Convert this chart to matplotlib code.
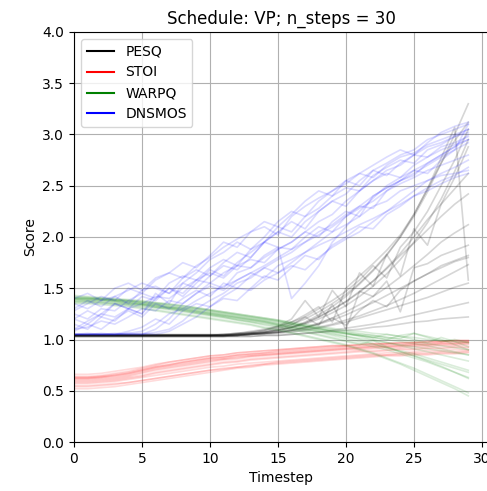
import numpy as np
import matplotlib
matplotlib.use("Agg")
import matplotlib.pyplot as plt
from matplotlib.lines import Line2D

timesteps = list(range(30))

pesq = [
    [1.04,1.04,1.04,1.04,1.04,1.04,1.04,1.04,1.04,1.04,1.04,1.04,1.05,1.06,1.08,1.11,1.15,1.20,1.27,1.35,1.44,1.55,1.68,1.83,2.00,2.20,2.44,2.72,3.00,3.30],
    [1.03,1.03,1.03,1.03,1.03,1.03,1.03,1.03,1.03,1.03,1.03,1.03,1.04,1.05,1.06,1.08,1.11,1.15,1.20,1.26,1.33,1.42,1.52,1.64,1.78,1.95,2.14,2.37,2.64,2.95],
    [1.04,1.04,1.04,1.04,1.04,1.04,1.04,1.04,1.04,1.04,1.04,1.04,1.04,1.05,1.06,1.07,1.09,1.12,1.16,1.21,1.27,1.34,1.42,1.51,1.61,1.72,1.83,1.95,2.04,2.12],
    [1.03,1.03,1.03,1.03,1.03,1.03,1.03,1.03,1.03,1.03,1.03,1.03,1.03,1.03,1.04,1.04,1.05,1.06,1.07,1.09,1.11,1.13,1.15,1.18,1.21,1.24,1.27,1.30,1.33,1.36],
    [1.04,1.04,1.04,1.04,1.04,1.04,1.04,1.04,1.04,1.04,1.04,1.05,1.06,1.07,1.09,1.13,1.20,1.38,1.22,1.48,1.32,1.65,1.52,1.83,1.62,2.08,1.92,2.32,2.58,2.88],
    [1.04,1.04,1.04,1.04,1.04,1.04,1.04,1.04,1.04,1.04,1.04,1.04,1.04,1.05,1.06,1.07,1.08,1.10,1.12,1.15,1.19,1.23,1.28,1.33,1.39,1.45,1.52,1.59,1.66,1.73],
    [1.05,1.05,1.05,1.05,1.05,1.05,1.05,1.05,1.05,1.05,1.05,1.05,1.06,1.07,1.09,1.12,1.17,1.24,1.32,1.17,1.50,1.62,1.74,1.87,2.02,2.22,2.47,2.72,2.94,3.12],
    [1.04,1.04,1.04,1.04,1.04,1.04,1.04,1.04,1.04,1.04,1.04,1.04,1.05,1.06,1.07,1.09,1.12,1.17,1.24,1.32,1.42,1.54,1.67,1.82,2.00,2.22,2.47,2.77,3.07,1.58],
    [1.03,1.03,1.03,1.03,1.03,1.03,1.03,1.03,1.03,1.03,1.03,1.03,1.04,1.05,1.06,1.07,1.09,1.11,1.15,1.21,1.14,1.28,1.38,1.32,1.48,1.57,1.64,1.72,1.77,1.82],
    [1.04,1.04,1.04,1.04,1.04,1.04,1.04,1.04,1.04,1.04,1.04,1.04,1.05,1.06,1.07,1.09,1.12,1.16,1.22,1.29,1.37,1.46,1.57,1.70,1.84,2.00,2.17,2.32,2.47,2.62],
    [1.03,1.03,1.03,1.03,1.03,1.03,1.03,1.03,1.03,1.03,1.03,1.03,1.03,1.03,1.04,1.04,1.05,1.06,1.07,1.08,1.09,1.10,1.12,1.13,1.15,1.17,1.18,1.20,1.21,1.22],
    [1.04,1.04,1.04,1.04,1.04,1.04,1.04,1.04,1.04,1.04,1.04,1.04,1.05,1.06,1.07,1.10,1.14,1.22,1.14,1.34,1.10,1.47,1.42,1.57,1.27,1.70,1.74,1.82,1.87,1.92],
    [1.04,1.04,1.04,1.04,1.04,1.04,1.04,1.04,1.04,1.04,1.04,1.04,1.05,1.06,1.07,1.09,1.12,1.16,1.22,1.29,1.37,1.47,1.57,1.69,1.82,1.94,2.07,2.20,2.32,2.42],
    [1.04,1.04,1.04,1.04,1.04,1.04,1.04,1.04,1.04,1.04,1.04,1.04,1.04,1.05,1.05,1.06,1.07,1.09,1.11,1.14,1.17,1.21,1.25,1.29,1.33,1.37,1.41,1.46,1.51,1.55],
    [1.04,1.04,1.04,1.04,1.04,1.04,1.04,1.04,1.04,1.04,1.04,1.05,1.06,1.08,1.10,1.13,1.17,1.22,1.30,1.38,1.47,1.58,1.72,1.60,1.90,2.05,2.25,2.50,2.75,3.05],
    [1.04,1.04,1.04,1.04,1.04,1.04,1.04,1.04,1.04,1.04,1.04,1.04,1.04,1.05,1.06,1.07,1.09,1.12,1.15,1.19,1.24,1.30,1.36,1.43,1.50,1.57,1.64,1.70,1.76,1.80],
]

stoi = [
    [0.62,0.62,0.63,0.64,0.66,0.69,0.72,0.74,0.76,0.78,0.80,0.81,0.83,0.84,0.85,0.86,0.87,0.88,0.89,0.90,0.91,0.92,0.93,0.93,0.94,0.95,0.95,0.96,0.96,0.97],
    [0.57,0.57,0.58,0.59,0.61,0.63,0.65,0.67,0.69,0.71,0.73,0.74,0.76,0.77,0.78,0.79,0.80,0.81,0.82,0.83,0.84,0.85,0.86,0.87,0.87,0.88,0.89,0.89,0.90,0.90],
    [0.66,0.66,0.67,0.69,0.71,0.73,0.76,0.78,0.80,0.82,0.84,0.85,0.87,0.88,0.89,0.90,0.91,0.92,0.93,0.94,0.94,0.95,0.96,0.96,0.97,0.97,0.98,0.98,0.99,0.99],
    [0.52,0.52,0.53,0.54,0.56,0.58,0.60,0.62,0.64,0.66,0.68,0.70,0.72,0.73,0.75,0.76,0.77,0.78,0.79,0.80,0.81,0.82,0.83,0.84,0.84,0.85,0.85,0.86,0.86,0.87],
    [0.60,0.60,0.61,0.62,0.64,0.67,0.70,0.72,0.74,0.76,0.78,0.80,0.81,0.83,0.84,0.85,0.86,0.87,0.88,0.89,0.90,0.90,0.91,0.92,0.92,0.93,0.93,0.94,0.94,0.95],
    [0.63,0.63,0.64,0.66,0.68,0.71,0.74,0.76,0.78,0.80,0.82,0.83,0.85,0.86,0.87,0.88,0.89,0.90,0.91,0.92,0.93,0.93,0.94,0.95,0.95,0.96,0.96,0.97,0.97,0.98],
    [0.55,0.55,0.56,0.57,0.58,0.60,0.62,0.64,0.66,0.68,0.70,0.71,0.73,0.74,0.76,0.77,0.78,0.79,0.80,0.81,0.82,0.83,0.84,0.85,0.85,0.86,0.86,0.87,0.87,0.88],
    [0.61,0.61,0.62,0.63,0.65,0.68,0.71,0.73,0.75,0.77,0.79,0.81,0.82,0.84,0.85,0.86,0.87,0.88,0.89,0.90,0.91,0.91,0.92,0.93,0.93,0.94,0.94,0.95,0.95,0.96],
    [0.59,0.59,0.60,0.61,0.63,0.65,0.68,0.70,0.72,0.74,0.76,0.78,0.79,0.81,0.82,0.83,0.84,0.85,0.86,0.87,0.88,0.89,0.89,0.90,0.91,0.91,0.92,0.92,0.93,0.93],
    [0.64,0.64,0.65,0.67,0.69,0.72,0.75,0.78,0.80,0.82,0.84,0.85,0.87,0.88,0.89,0.90,0.91,0.92,0.93,0.94,0.94,0.95,0.96,0.96,0.97,0.97,0.98,0.98,0.99,0.99],
    [0.54,0.54,0.55,0.56,0.58,0.60,0.62,0.64,0.66,0.68,0.70,0.72,0.73,0.75,0.76,0.78,0.79,0.80,0.81,0.82,0.83,0.84,0.85,0.85,0.86,0.87,0.87,0.88,0.88,0.89],
    [0.62,0.62,0.63,0.65,0.67,0.70,0.73,0.75,0.77,0.79,0.81,0.82,0.84,0.85,0.86,0.87,0.88,0.89,0.90,0.91,0.92,0.92,0.93,0.94,0.94,0.95,0.95,0.96,0.96,0.97],
    [0.58,0.58,0.59,0.60,0.62,0.64,0.67,0.69,0.71,0.73,0.75,0.77,0.78,0.80,0.81,0.82,0.83,0.84,0.85,0.86,0.87,0.88,0.88,0.89,0.90,0.90,0.91,0.91,0.92,0.92],
    [0.63,0.63,0.64,0.65,0.67,0.70,0.73,0.75,0.78,0.80,0.82,0.83,0.85,0.86,0.87,0.89,0.90,0.91,0.92,0.93,0.94,0.94,0.95,0.96,0.96,0.97,0.97,0.98,0.98,0.98],
]

warpq = [
    [1.40,1.40,1.39,1.38,1.37,1.35,1.34,1.32,1.30,1.28,1.26,1.24,1.22,1.20,1.18,1.16,1.14,1.12,1.10,1.08,1.06,1.03,1.00,0.97,0.94,0.91,0.88,0.85,0.82,0.79],
    [1.38,1.38,1.37,1.36,1.35,1.34,1.32,1.31,1.29,1.27,1.25,1.23,1.21,1.19,1.17,1.15,1.12,1.10,1.08,1.06,1.03,1.00,0.96,0.92,0.88,0.84,0.79,0.74,0.68,0.62],
    [1.42,1.41,1.40,1.39,1.38,1.37,1.36,1.34,1.33,1.31,1.29,1.27,1.25,1.23,1.21,1.19,1.17,1.15,1.13,1.11,1.09,1.08,1.06,1.05,1.03,1.02,1.00,0.99,0.98,0.97],
    [1.36,1.36,1.35,1.34,1.33,1.31,1.29,1.27,1.25,1.23,1.21,1.19,1.17,1.15,1.12,1.10,1.07,1.04,1.01,0.98,0.95,0.91,0.87,0.82,0.77,0.72,0.66,0.60,0.54,0.48],
    [1.40,1.39,1.39,1.38,1.36,1.35,1.33,1.31,1.30,1.28,1.26,1.24,1.22,1.20,1.18,1.15,1.13,1.11,1.09,1.07,1.05,1.04,1.02,1.05,1.03,1.00,0.97,1.02,0.98,0.93],
    [1.37,1.37,1.36,1.35,1.34,1.33,1.31,1.30,1.28,1.26,1.24,1.22,1.20,1.18,1.16,1.14,1.11,1.09,1.07,1.04,1.01,0.98,0.95,0.92,0.89,0.86,0.82,0.78,0.74,0.70],
    [1.41,1.40,1.40,1.39,1.38,1.36,1.35,1.33,1.31,1.30,1.28,1.26,1.24,1.22,1.20,1.18,1.16,1.13,1.11,1.09,1.07,1.05,1.04,1.02,1.01,1.06,1.03,1.00,0.95,0.90],
    [1.35,1.35,1.34,1.33,1.32,1.30,1.28,1.26,1.24,1.22,1.20,1.18,1.16,1.14,1.11,1.09,1.06,1.03,1.00,0.97,0.94,0.90,0.86,0.81,0.76,0.70,0.64,0.58,0.52,0.45],
    [1.39,1.39,1.38,1.37,1.36,1.34,1.33,1.31,1.29,1.27,1.25,1.23,1.21,1.19,1.17,1.14,1.12,1.10,1.08,1.05,1.03,1.01,0.99,0.97,0.95,0.93,0.91,0.89,0.87,0.85],
    [1.43,1.42,1.41,1.40,1.39,1.38,1.36,1.35,1.33,1.31,1.29,1.27,1.25,1.23,1.21,1.19,1.16,1.14,1.12,1.10,1.08,1.06,1.04,1.02,1.00,0.98,0.96,0.94,0.92,0.90],
    [1.37,1.37,1.36,1.35,1.34,1.32,1.31,1.29,1.27,1.25,1.23,1.21,1.19,1.17,1.15,1.13,1.10,1.08,1.05,1.02,0.99,0.96,0.93,0.90,0.86,0.82,0.78,0.73,0.68,0.63],
    [1.40,1.40,1.39,1.38,1.37,1.36,1.34,1.32,1.31,1.29,1.27,1.25,1.23,1.21,1.19,1.17,1.15,1.13,1.10,1.08,1.06,1.04,1.02,1.00,0.98,0.96,0.94,0.91,0.88,0.85],
    [1.39,1.38,1.38,1.37,1.35,1.34,1.32,1.30,1.28,1.26,1.24,1.22,1.19,1.17,1.14,1.12,1.09,1.07,1.04,1.01,0.98,0.95,0.99,0.93,0.88,0.84,0.80,0.76,0.72,0.68],
    [1.41,1.41,1.40,1.39,1.38,1.37,1.35,1.34,1.32,1.30,1.28,1.26,1.24,1.22,1.20,1.18,1.15,1.13,1.11,1.08,1.06,1.04,1.02,1.00,1.04,1.06,1.02,0.98,1.00,0.97],
]

dnsmos = [
    [1.05,1.05,1.06,1.05,1.06,1.08,1.15,1.25,1.30,1.38,1.45,1.52,1.58,1.65,1.72,1.80,1.88,1.95,2.05,2.12,2.22,2.30,2.40,2.48,2.55,2.62,2.70,2.78,2.85,2.92],
    [1.10,1.18,1.25,1.22,1.30,1.35,1.42,1.40,1.50,1.58,1.55,1.65,1.72,1.70,1.82,1.90,1.88,2.00,2.10,2.05,2.20,2.30,2.28,2.45,2.55,2.60,2.72,2.80,2.88,3.00],
    [1.35,1.30,1.38,1.42,1.35,1.48,1.52,1.45,1.60,1.68,1.62,1.75,1.85,1.80,1.95,2.05,2.00,2.15,2.25,2.35,2.30,2.45,2.55,2.62,2.58,2.70,2.78,2.85,2.90,2.95],
    [1.05,1.05,1.05,1.06,1.05,1.05,1.07,1.10,1.18,1.30,1.38,1.45,1.55,1.60,1.70,1.78,1.85,1.95,2.02,2.10,2.20,2.28,2.35,2.45,2.52,2.58,2.65,2.70,2.75,2.80],
    [1.20,1.28,1.22,1.35,1.30,1.42,1.38,1.50,1.45,1.58,1.65,1.60,1.72,1.78,1.75,1.88,1.95,2.05,2.00,2.15,2.25,2.20,2.40,2.48,2.55,2.65,2.62,2.75,2.85,3.10],
    [1.08,1.15,1.10,1.20,1.28,1.22,1.35,1.30,1.40,1.48,1.42,1.55,1.50,1.62,1.70,1.65,1.75,1.85,1.92,1.98,2.05,2.12,2.18,2.25,2.32,2.40,2.45,2.52,2.58,2.62],
    [1.40,1.45,1.38,1.50,1.55,1.48,1.60,1.65,1.75,1.70,1.82,1.95,1.90,2.05,2.10,2.02,2.20,2.30,2.38,2.45,2.55,2.50,2.65,2.72,2.80,2.85,2.95,3.00,3.05,3.10],
    [1.05,1.06,1.05,1.05,1.08,1.12,1.20,1.15,1.28,1.35,1.32,1.42,1.50,1.48,1.58,1.65,1.72,1.68,1.80,1.90,1.98,2.05,2.15,2.25,2.35,2.45,2.55,2.62,2.68,2.75],
    [1.25,1.20,1.30,1.28,1.38,1.45,1.40,1.55,1.62,1.58,1.70,1.78,1.72,1.88,1.95,2.10,2.05,2.20,2.28,2.40,2.48,2.45,2.60,2.68,2.75,2.72,2.85,2.90,2.98,3.05],
    [1.15,1.10,1.22,1.18,1.30,1.25,1.40,1.50,1.42,1.55,1.68,1.62,1.75,1.85,1.95,1.90,1.40,1.55,1.72,1.95,2.10,2.25,2.38,2.50,2.58,2.65,2.72,2.80,2.88,2.95],
    [1.05,1.05,1.05,1.05,1.06,1.05,1.10,1.20,1.35,1.45,1.55,1.50,1.65,1.70,1.80,1.88,1.95,2.05,2.15,2.22,2.35,2.45,2.55,2.65,2.70,2.80,2.88,2.92,2.98,3.02],
    [1.30,1.38,1.32,1.42,1.48,1.55,1.50,1.45,1.55,1.65,1.78,1.85,1.95,1.88,2.00,2.15,2.25,2.20,2.35,2.45,2.52,2.62,2.58,2.70,2.78,2.82,2.90,2.95,3.00,3.05],
    [1.10,1.12,1.18,1.15,1.22,1.30,1.28,1.38,1.35,1.45,1.52,1.48,1.58,1.65,1.60,1.72,1.78,1.85,1.95,2.05,2.12,2.20,2.30,2.35,2.45,2.50,2.55,2.60,2.62,2.65],
    [1.20,1.15,1.25,1.35,1.30,1.25,1.45,1.35,1.55,1.50,1.62,1.72,1.68,1.80,1.95,2.05,2.15,2.08,2.25,2.35,2.42,2.55,2.65,2.60,2.72,2.80,2.78,2.88,2.92,2.98],
    [1.05,1.05,1.05,1.05,1.05,1.06,1.05,1.08,1.15,1.22,1.32,1.40,1.38,1.50,1.62,1.58,1.70,1.82,1.78,1.92,2.00,2.10,2.08,2.22,2.30,2.40,2.48,2.55,2.60,2.68],
    [1.28,1.35,1.42,1.38,1.50,1.45,1.58,1.65,1.60,1.72,1.80,1.90,1.98,2.05,2.15,2.10,2.22,2.35,2.45,2.40,2.55,2.62,2.70,2.78,2.85,2.80,2.92,3.02,3.08,3.12],
]

metric_names = ["PESQ", "STOI", "WARPQ", "DNSMOS"]
metric_colors = ["black", "red", "green", "blue"]
metric_data = [pesq, stoi, warpq, dnsmos]
metric_alpha = [0.16, 0.14, 0.14, 0.14]

fig = plt.figure(figsize=(4.87, 4.91), dpi=100)
ax = fig.add_axes([74/487, 49/491, 414/487, 410/491])

for data, color, a in zip(metric_data, metric_colors, metric_alpha):
    for series in data:
        ax.plot(timesteps[:len(series)], series, color=color, alpha=a, linewidth=1.2)

handles = [Line2D([0], [0], color=c, lw=1.5) for c in metric_colors]
ax.legend(handles, metric_names, loc="upper left")

ax.set_xlim(0, 30.45)
ax.set_ylim(0, 4.0)
ax.set_yticks(np.arange(0, 4.01, 0.5))
ax.set_xticks([0, 5, 10, 15, 20, 25, 30])
ax.grid(True)
ax.set_xlabel("Timestep")
ax.set_ylabel("Score")
ax.set_title("Schedule: VP; n_steps = 30")

fig.savefig("out.png", dpi=100)
